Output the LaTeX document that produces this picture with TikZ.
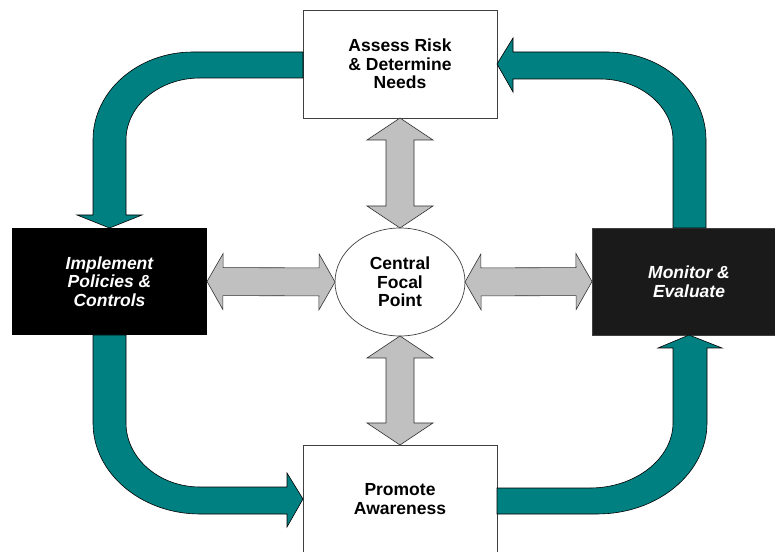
\documentclass[tikz,border=0pt]{standalone}
\usepackage{fontspec}
\setmainfont{Liberation Sans}
\usetikzlibrary{calc,shapes.geometric}

\definecolor{flowteal}{HTML}{008080}
\definecolor{linkgray}{HTML}{C0C0C0}
\definecolor{darkbox}{HTML}{1A1A1A}
\definecolor{boxedge}{HTML}{404040}

\newcommand\labelfont{\fontsize{17.5}{18.5}\selectfont\bfseries}

% straight double-headed block arrow between two points:
% #1 start, #2 end, #3 head length, #4 head half-width, #5 shaft half-width
\newcommand\dblarrow[5]{%
  \draw[linkarrow] (#1)
    -- ($(#1)!#3!(#2)!#4!90:(#2)$)
    -- ($(#1)!#3!(#2)!#5!90:(#2)$)
    -- ($(#2)!#3!(#1)!#5!-90:(#1)$)
    -- ($(#2)!#3!(#1)!#4!-90:(#1)$)
    -- (#2)
    -- ($(#2)!#3!(#1)!#4!90:(#1)$)
    -- ($(#2)!#3!(#1)!#5!90:(#1)$)
    -- ($(#1)!#3!(#2)!#5!-90:(#2)$)
    -- ($(#1)!#3!(#2)!#4!-90:(#2)$)
    -- cycle;}

\begin{document}
\begin{tikzpicture}[x=1pt,y=1pt,
  lightbox/.style={draw=boxedge, line width=0.8pt, fill=white,
    minimum width=194pt, minimum height=108pt, inner sep=0pt, outer sep=0pt,
    align=center, font=\labelfont},
  darkstep/.style={minimum width=194pt, minimum height=107pt, inner sep=0pt,
    outer sep=0pt, align=center, text=white, font=\labelfont\itshape},
  focus/.style={ellipse, draw=boxedge, line width=0.7pt, fill=white,
    minimum width=130pt, minimum height=108pt, inner sep=0pt, outer sep=0pt,
    align=center, font=\labelfont},
  linkarrow/.style={draw=black!80, line width=0.6pt, fill=linkgray, line join=miter},
  cyclearrow/.style={draw=black, line width=0.6pt, fill=flowteal, line join=miter}]

\useasboundingbox (0,0) rectangle (775,551);

% process steps
\node[lightbox] (tp) at (400,487) {Assess Risk\\ \& Determine\\ Needs};
\node[darkstep, fill=black, minimum width=195pt] (lp) at (109.5,269.5) {Implement\\ Policies \&\\ Controls};
\node[darkstep, fill=darkbox, draw=boxedge, line width=0.6pt] (rp) at (689,269.5) {Monitor \&\\ Evaluate};
\node[lightbox] (bp) at (400,52) {Promote\\ Awareness};
\node[focus] (cp) at (400,269) {Central\\ Focal\\ Point};

% links between the focal point and each step
\dblarrow{lp.east}{cp.west}{16pt}{28pt}{14pt}
\dblarrow{cp.east}{rp.west}{16pt}{28pt}{14pt}
\dblarrow{cp.north}{tp.south}{22pt}{33pt}{14pt}
\dblarrow{bp.north}{cp.south}{22pt}{33pt}{14pt}

% outer cycle: assess -> implement
\draw[cyclearrow] (303,499) -- (193,499)
  .. controls (138,499) and (93,460) .. (93,411)
  -- (93,336) -- (77,336) -- (lp.north) -- (142,336) -- (126,336)
  -- (126,411) .. controls (126,445) and (159,473) .. (200,473)
  -- (303,473) -- cycle;

% implement -> promote
\draw[cyclearrow] (93,216) -- (93,128)
  .. controls (93,78) and (141,37) .. (200,37)
  -- (287,37) -- (287,24) -- (bp.west) -- (287,78) -- (287,64)
  -- (200,64) .. controls (159,64) and (126,93) .. (126,128)
  -- (126,216) -- cycle;

% promote -> monitor
\draw[cyclearrow] (497,37) -- (597,37)
  .. controls (658,37) and (707,78) .. (707,128)
  -- (707,203) -- (722,203) -- (rp.south) -- (658,203) -- (673,203)
  -- (673,128) .. controls (673,93) and (636,63) .. (590,63)
  -- (497,63) -- cycle;

% monitor -> assess
\draw[cyclearrow] (673,323) -- (706,323) -- (706,411)
  .. controls (706,460) and (662,499) .. (607,499)
  -- (513,499) -- (513,513) -- (tp.east) -- (513,459) -- (513,472)
  -- (600,472) .. controls (640,472) and (673,445) .. (673,411)
  -- cycle;

\end{tikzpicture}
\end{document}
